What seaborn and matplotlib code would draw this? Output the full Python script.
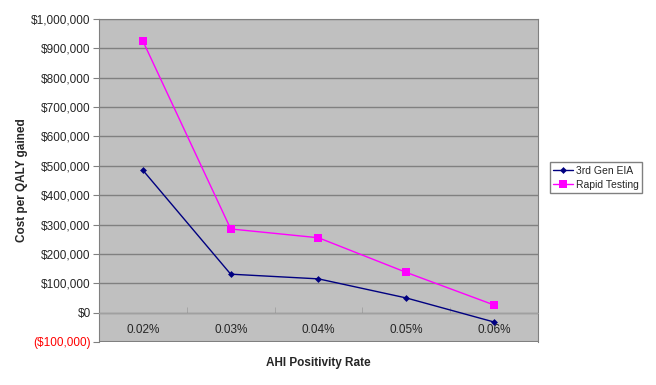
import numpy as np
import pandas as pd
import matplotlib
matplotlib.use("Agg")
import matplotlib.pyplot as plt
from matplotlib.ticker import FuncFormatter, FixedLocator
import seaborn as sns

# data
rates = ["0.02%", "0.03%", "0.04%", "0.05%", "0.06%"]
eia_3rd_gen = [485000, 131000, 115000, 50000, -32000]
rapid_testing = [925000, 285000, 255000, 137000, 26000]
y_ticks = np.arange(-100000, 1000001, 100000)

sns.set_style("white")
plt.rcParams["font.family"] = ["Liberation Sans", "DejaVu Sans"]

df = pd.DataFrame({
    "pos": list(range(len(rates))) * 2,
    "cost": eia_3rd_gen + rapid_testing,
    "series": ["3rd Gen EIA"] * len(rates) + ["Rapid Testing"] * len(rates),
})

fig = plt.figure(figsize=(6.56, 3.85), dpi=100)
ax = fig.add_axes([0.1509, 0.1117, 0.6692, 0.8389])
ax.set_facecolor("#C0C0C0")

sns.lineplot(data=df, x="pos", y="cost", hue="series", style="series",
             palette={"3rd Gen EIA": "#000080", "Rapid Testing": "#FF00FF"},
             markers={"3rd Gen EIA": "D", "Rapid Testing": "s"},
             dashes=False, linewidth=1, ax=ax, legend=False, zorder=3)
for line, ms in zip(ax.lines, [3.5, 5.5]):
    line.set_markersize(ms)
    line.set_markeredgewidth(0)

ax.set_xlim(-0.5, len(rates) - 0.5)
ax.set_ylim(-100000, 1000000)
ax.yaxis.set_major_locator(FixedLocator(y_ticks))
ax.grid(axis="y", color="#808080", linewidth=1)
ax.set_axisbelow(True)


def money(v, _):
    if v < 0:
        return f"(${-v:,.0f})"
    return f"${v:,.0f}"


ax.yaxis.set_major_formatter(FuncFormatter(money))
ax.tick_params(axis="y", labelsize=8.5, length=4, color="#808080",
               direction="out", left=True, pad=2)
for lab in ax.get_yticklabels():
    if lab.get_text().startswith("("):
        lab.set_color("#FF0000")

# category axis crosses at zero
ax.spines["bottom"].set_position(("data", 0))
ax.spines["bottom"].set_color("#A0A0A0")
ax.set_xticks(range(len(rates)))
ax.set_xticklabels(rates)
ax.set_xticks(np.arange(0.5, len(rates) - 0.5, 1.0), minor=True)
ax.tick_params(axis="x", which="major", length=0, labelsize=8.5, pad=8)
ax.tick_params(axis="x", which="minor", length=4, color="#A0A0A0",
               direction="in", bottom=True)
ax.axhline(-100000, color="#808080", linewidth=1.5, zorder=4)
for side in ["left", "top", "right"]:
    ax.spines[side].set_color("#808080")

ax.set_xlabel("")
ax.set_ylabel("Cost per QALY gained", fontsize=8.5, fontweight="bold",
              labelpad=2)
fig.text(0.485, 0.058, "AHI Positivity Rate", fontsize=8.5,
         fontweight="bold", ha="center", va="center")

handles = [
    plt.Line2D([], [], color="#000080", marker="D", markersize=3.5,
               linewidth=1, markeredgewidth=0),
    plt.Line2D([], [], color="#FF00FF", marker="s", markersize=5.5,
               linewidth=1, markeredgewidth=0),
]
fig.legend(handles, ["3rd Gen EIA", "Rapid Testing"], loc="upper left",
           bbox_to_anchor=(0.838, 0.578), fontsize=7.5, frameon=True,
           fancybox=False, edgecolor="#808080", framealpha=1,
           handlelength=1.9, borderpad=0.35, labelspacing=0.35,
           handletextpad=0.25, borderaxespad=0)

fig.savefig("out.png", dpi=100)
